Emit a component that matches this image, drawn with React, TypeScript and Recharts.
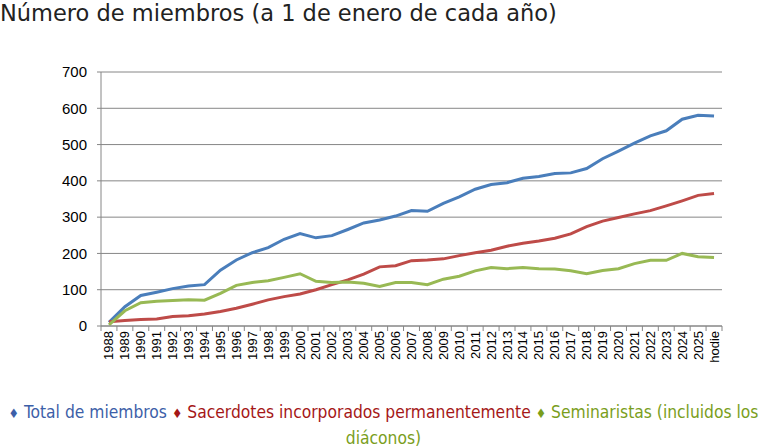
import React from 'react'
import { LineChart, Line, XAxis, YAxis, CartesianGrid } from 'recharts'

// Miembros a 1 de enero de cada año
const years = [
  '1988', '1989', '1990', '1991', '1992', '1993', '1994', '1995', '1996', '1997',
  '1998', '1999', '2000', '2001', '2002', '2003', '2004', '2005', '2006', '2007',
  '2008', '2009', '2010', '2011', '2012', '2013', '2014', '2015', '2016', '2017',
  '2018', '2019', '2020', '2021', '2022', '2023', '2024', '2025', 'hodie',
]
const total = [
  10, 53, 84, 93, 103, 110, 114, 154, 182, 202,
  216, 239, 255, 243, 249, 266, 284, 292, 303, 318,
  316, 338, 356, 377, 390, 395, 407, 412, 420, 422,
  434, 461, 482, 504, 524, 538, 570, 581, 579,
]
const sacerdotes = [
  12, 15, 18, 19, 26, 28, 33, 40, 49, 60,
  72, 81, 88, 100, 114, 127, 143, 163, 166, 180,
  182, 185, 194, 202, 209, 220, 228, 234, 242, 254,
  274, 289, 299, 309, 318, 331, 345, 360, 365,
]
const seminaristas = [
  3, 42, 64, 68, 70, 72, 71, 90, 112, 120,
  125, 134, 144, 123, 120, 121, 118, 109, 120, 120,
  114, 129, 137, 152, 161, 158, 161, 158, 157, 152,
  144, 153, 158, 172, 181, 181, 200, 191, 189,
]
const yTicks = [0, 100, 200, 300, 400, 500, 600, 700]

const data = years.map((year, i) => ({
  year,
  total: total[i],
  sacerdotes: sacerdotes[i],
  seminaristas: seminaristas[i],
}))

const AXIS = '#868686'
const BAND = (722 - 101) / years.length

function YearTick({ x, y, payload, index }: any) {
  const last = index === years.length - 1
  return (
    <g>
      <line x1={x - BAND / 2} x2={x - BAND / 2} y1={y - 8} y2={y - 3} stroke={AXIS} />
      {last && <line x1={x + BAND / 2} x2={x + BAND / 2} y1={y - 8} y2={y - 3} stroke={AXIS} />}
      <text
        x={0}
        y={0}
        transform={`translate(${x + 4.5},${y - 3}) rotate(-90)`}
        textAnchor="end"
        fontSize={13}
        fontFamily="'Liberation Sans', Arial, sans-serif"
        fill="#000"
      >
        {payload.value}
      </text>
    </g>
  )
}

export default function App() {
  return (
    <div style={{ position: 'absolute', left: 0, top: 0, width: 767, height: 448, background: '#fff' }}>
      <div
        style={{
          position: 'absolute', left: 0, top: 0, fontSize: 22.5, color: '#222',
          fontFamily: "'DejaVu Sans', Verdana, sans-serif", whiteSpace: 'nowrap',
        }}
      >
        Número de miembros (a 1 de enero de cada año)
      </div>
      <div style={{ position: 'absolute', left: 0, top: 0 }}>
        <LineChart width={767} height={380} data={data} margin={{ top: 72, right: 45, left: 0, bottom: 0 }}>
          <CartesianGrid vertical={false} stroke={AXIS} strokeDasharray="" />
          <XAxis
            dataKey="year"
            interval={0}
            height={54}
            stroke={AXIS}
            tickLine={false}
            padding={{ left: BAND / 2, right: BAND / 2 }}
            tick={<YearTick />}
          />
          <YAxis
            domain={[0, 700]}
            ticks={yTicks}
            width={101}
            stroke={AXIS}
            tickSize={4}
            tickMargin={10}
            tick={{ fill: '#000', fontSize: 15, fontFamily: "'Liberation Sans', Arial, sans-serif" }}
          />
          <Line dataKey="total" stroke="#4a7ebb" strokeWidth={3} dot={false} isAnimationActive={false} />
          <Line dataKey="sacerdotes" stroke="#be4b48" strokeWidth={3} dot={false} isAnimationActive={false} />
          <Line dataKey="seminaristas" stroke="#98b954" strokeWidth={3} dot={false} isAnimationActive={false} />
        </LineChart>
      </div>
      <div
        style={{
          position: 'absolute', left: 0, top: 400, width: 767, textAlign: 'center',
          fontSize: 17.3, lineHeight: '25px', fontFamily: "'DejaVu Sans Condensed', 'Liberation Sans Narrow', sans-serif",
        }}
      >
        <span style={{ color: '#3d5fa8' }}><span style={{ fontSize: 13 }}>♦</span> Total de miembros</span>{' '}
        <span style={{ color: '#a51717' }}><span style={{ fontSize: 13 }}>♦</span> Sacerdotes incorporados permanentemente</span>{' '}
        <span style={{ color: '#7a9e1c' }}><span style={{ fontSize: 13 }}>♦</span> Seminaristas (incluidos los<br />diáconos)</span>
      </div>
    </div>
  )
}
